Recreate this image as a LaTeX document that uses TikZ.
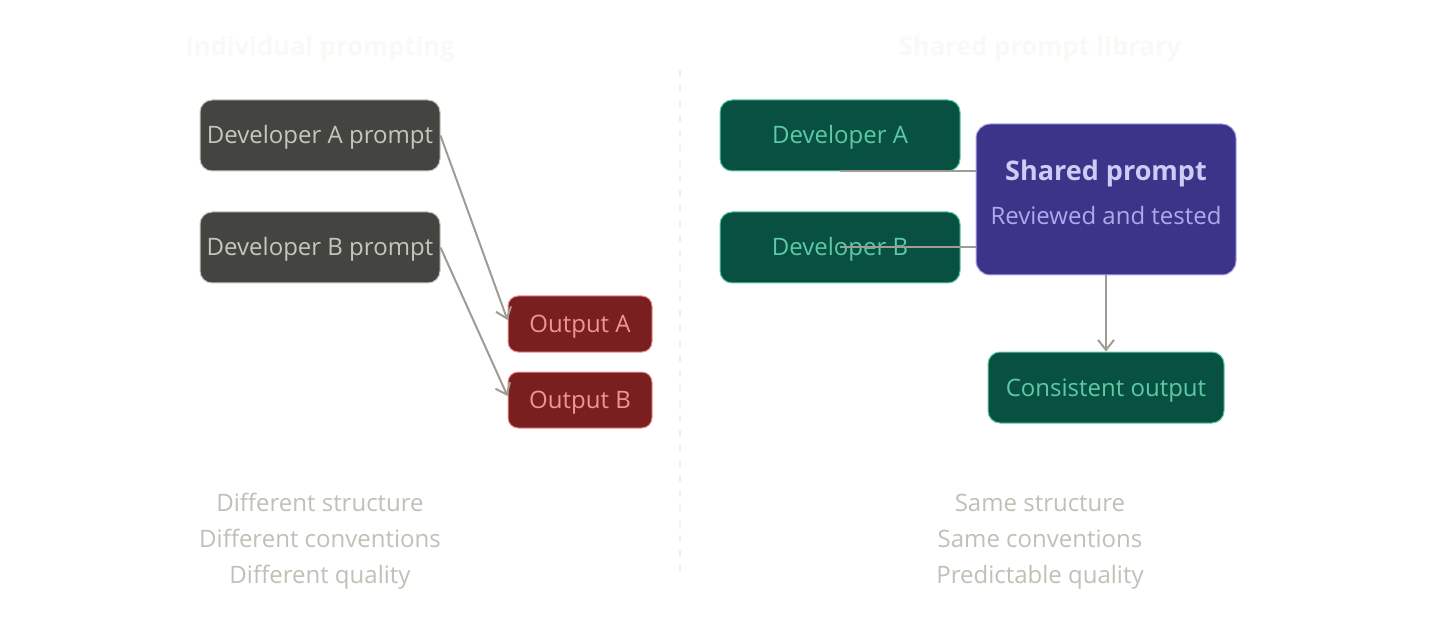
\documentclass[tikz,border=0pt]{standalone}
\usepackage{fontspec}
\setmainfont{Open Sans}
\usepackage{tikz}
\usetikzlibrary{arrows.meta}
\definecolor{mydarkgray}{RGB}{68,68,65}
\definecolor{mylightgray}{RGB}{200,198,188}
\definecolor{mydarkred}{RGB}{121,31,31}
\definecolor{mylightred}{RGB}{240,149,149}
\definecolor{mydarkgreen}{RGB}{8,80,65}
\definecolor{mylightgreen}{RGB}{93,202,165}
\definecolor{mydarkpurple}{RGB}{60,52,137}
\definecolor{mylightpurple}{RGB}{175,169,236}
\definecolor{mypalepurple}{RGB}{206,203,246}
\definecolor{myline}{RGB}{158,156,148}
\definecolor{mycaption}{RGB}{194,192,182}
\definecolor{mytitle}{RGB}{250,249,245}
\definecolor{mydivider}{RGB}{241,240,235}
\newcommand{\widthprompt}{120pt}
\newcommand{\widthoutput}{72pt}
\newcommand{\widthshared}{130pt}
\newcommand{\widthconsistent}{118pt}
\tikzset{
    common/.style={draw, rectangle, rounded corners=6pt, line width=0.5pt, minimum height=35.5pt,
        text height=10pt, text depth=1.5pt, font=\fontsize{12}{14}\selectfont},
    prompt/.style={common, fill=mydarkgray, draw=mylightgray, text=mylightgray, minimum width=\widthprompt},
    output/.style={common, fill=mydarkred, draw=mylightred, text=mylightred, minimum width=\widthoutput, minimum height=28pt, rounded corners=5pt},
    dev/.style={common, fill=mydarkgreen, draw=mylightgreen, text=mylightgreen, minimum width=\widthprompt},
    shared/.style={common, fill=mydarkpurple, draw=mylightpurple, minimum width=\widthshared, minimum height=75.5pt,
        rounded corners=7pt, align=center, text height=31pt, text depth=5.5pt},
    link/.style={draw=myline, line width=1pt},
    caption/.style={anchor=base, align=center, text=mycaption, font=\fontsize{12}{18}\selectfont},
    title/.style={anchor=base, text=mytitle, font=\fontsize{12.8}{16}\selectfont\bfseries}
}

\begin{document}
\begin{tikzpicture}[x=0.5pt, y=-0.5pt, >={Straight Barb[length=5pt, width=8pt]}]
    \useasboundingbox[fill=white] (0,0) rectangle (1440,620);

    % titles and divider
    \node[title] (title-left) at (320,56) {Individual prompting};
    \node[title] (title-right) at (1040,56) {Shared prompt library};
    \draw[mydivider, line width=1pt, dash pattern=on 3.5pt off 4pt] (680,70) -- (680,580);

    % individual prompting
    \node[prompt] (promptA) at (320,135.5) {Developer A prompt};
    \node[prompt] (promptB) at (320,247.5) {Developer B prompt};
    \node[output] (outA) at (580,324) {Output A};
    \node[output] (outB) at (580,400) {Output B};

    \draw[link, ->] (promptA.east) -- ([yshift=2pt]outA.west);
    \draw[link, ->] (promptB.east) -- ([yshift=2pt]outB.west);

    % shared prompt library
    \node[dev] (devA) at (840,135.5) {Developer A};
    \node[dev] (devB) at (840,247.5) {Developer B};
    \node[shared] (shared) at (1106,199.5)
        {{\fontsize{13.5}{21.5}\selectfont\bfseries\color{mypalepurple}Shared prompt}\\[8pt]
         {\color{mylightpurple}Reviewed and tested}};
    \node[dev, minimum width=\widthconsistent] (consistent) at (1106,387.5) {Consistent output};

    \draw[link] (devA.south) -- (devA.south -| shared.west);
    \draw[link] (devB.center) -- (devB.center -| shared.west);
    \draw[link, ->] (shared.south) -- (consistent.north);

    % captions
    \node[caption] (cap-left) at (320,583) {Different structure\\Different conventions\\Different quality};
    \node[caption] (cap-right) at (1040,583) {Same structure\\Same conventions\\Predictable quality};
\end{tikzpicture}
\end{document}
